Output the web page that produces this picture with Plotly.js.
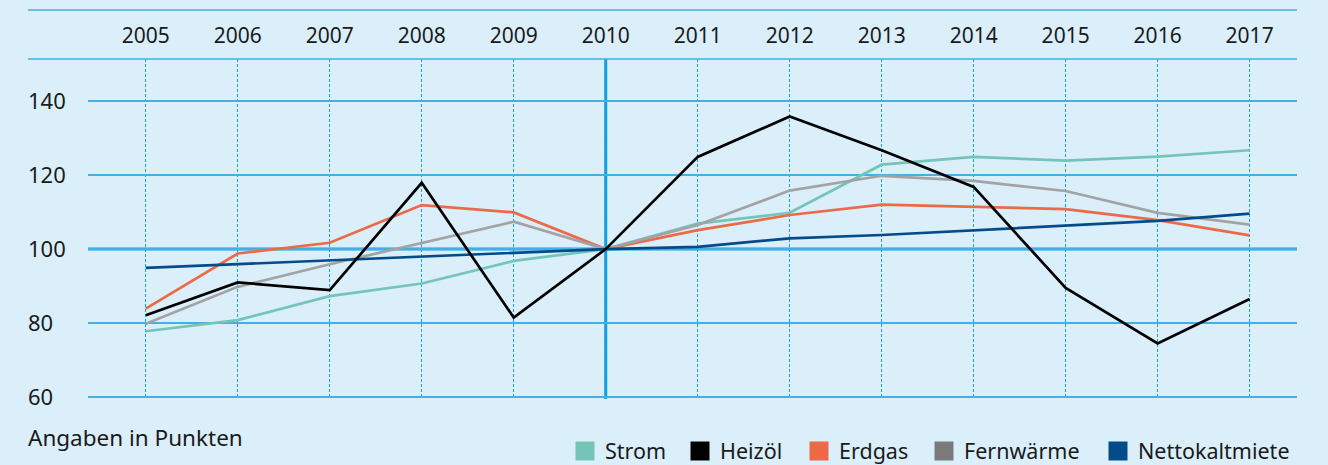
<!DOCTYPE html>
<html>
<head>
<meta charset="utf-8">
<script src="https://cdn.plot.ly/plotly-3.0.1.min.js"></script>
<style>
  html, body { margin: 0; padding: 0; background: #dbeffb; }
  #chart { width: 1328px; height: 465px; }
</style>
</head>
<body>
<div id="chart"></div>
<script>
// ---- data ----
const years = [2005, 2006, 2007, 2008, 2009, 2010, 2011, 2012, 2013, 2014, 2015, 2016, 2017];
const strom = [77.8, 80.8, 87.3, 90.7, 96.8, 100, 106.9, 109.8, 122.8, 124.9, 123.9, 125.0, 126.7];
const heizoel = [82.1, 91.0, 88.9, 117.9, 81.5, 100, 124.9, 135.8, 126.7, 116.8, 89.5, 74.5, 86.5];
const erdgas = [83.9, 98.8, 101.7, 111.9, 109.9, 100, 105.1, 109.2, 112.0, 111.4, 110.8, 107.8, 103.7];
const fernwaerme = [79.8, 89.8, 95.9, 101.7, 107.4, 100, 106.5, 115.8, 119.8, 118.4, 115.7, 109.8, 106.6];
const nettokaltmiete = [94.9, 95.9, 97.0, 98.1, 99.1, 100, 100.6, 102.9, 103.8, 105.1, 106.5, 107.6, 109.6];
const seriesNames = ["Strom", "Heizöl", "Erdgas", "Fernwärme", "Nettokaltmiete"];
const yTicks = [60, 80, 100, 120, 140];
const baseYear = 2010;
const baseValue = 100;
const noteText = "Angaben in Punkten";

// ---- styles ----
const lineColors = ["#74c5b8", "#000000", "#ec6a48", "#a3a3a3", "#044c89"];
const legendColors = ["#74c5b8", "#000000", "#ec6a48", "#7a7a7a", "#044c89"];
const legendLeftPx = [577, 692, 811, 936, 1110];  // left edge of each legend swatch (layout)
const seriesData = [strom, heizoel, erdgas, fernwaerme, nettokaltmiete];
const drawOrder = [0, 2, 3, 4, 1];

const FONT = "Noto Sans, Open Sans, sans-serif";
const gridBlue = "#45afe5";
const strongBlue = "#0a9fe2";
const PLOT_L = 88, PLOT_W = 1328 - 88 - 31;
const plotH = 465 - 59 - 66;

const legendIds = seriesNames.map((n, i) => i === 0 ? "legend" : "legend" + (i + 1));

const traces = [];
drawOrder.forEach(i => {
  traces.push({
    x: years, y: seriesData[i], type: "scatter", mode: "lines",
    name: seriesNames[i], showlegend: false,
    line: { color: lineColors[i], width: 2.7 }, hoverinfo: "x+y+name"
  });
});
seriesNames.forEach((n, i) => {
  traces.push({
    x: [null], y: [null], type: "scatter", mode: "markers",
    name: n, showlegend: true, legend: legendIds[i],
    marker: { symbol: "square", size: 16, color: legendColors[i],
              line: { color: legendColors[i], width: 3 } }
  });
});

const leftLineX = (28 - PLOT_L) / PLOT_W;

const layout = {
  width: 1328, height: 465,
  margin: { l: PLOT_L, r: 31, t: 59, b: 66, pad: 0, autoexpand: false },
  paper_bgcolor: "#dbeffb",
  plot_bgcolor: "#dbeffb",
  font: { family: FONT, color: "#1a1a1a", size: 21 },
  showlegend: true,
  xaxis: {
    side: "top",
    range: [2004.372, 2017.515],
    tickmode: "array", tickvals: years, ticktext: years.map(String),
    ticks: "", showline: false, zeroline: false,
    showgrid: true, gridcolor: "#1a9fe2", gridwidth: 1, griddash: "3px,2px",
    tickfont: { family: FONT, size: 21, color: "#1a1a1a" },
    ticklabelstandoff: 11,
    fixedrange: true
  },
  yaxis: {
    range: [59.5, 151.35],
    tickmode: "array", tickvals: yTicks, ticktext: yTicks.map(String),
    ticks: "", showline: false, zeroline: false,
    showgrid: true, gridcolor: gridBlue, gridwidth: 1.5,
    ticklabelposition: "inside",
    ticklabeloverflow: "allow",
    ticklabelstandoff: -63,
    tickfont: { family: FONT, size: 22, color: "#1a1a1a" },
    fixedrange: true
  },
  shapes: [
    { type: "line", xref: "paper", yref: "paper", x0: leftLineX, x1: 1, y0: 1 + 49 / plotH, y1: 1 + 49 / plotH,
      line: { color: gridBlue, width: 1.5 } },
    { type: "line", xref: "paper", yref: "paper", x0: leftLineX, x1: 1, y0: 1, y1: 1,
      line: { color: gridBlue, width: 1.5 } },
    { type: "line", xref: "paper", yref: "y", x0: 0, x1: 1, y0: baseValue, y1: baseValue,
      line: { color: strongBlue, width: 3 }, layer: "below" },
    { type: "line", xref: "x", yref: "paper", x0: baseYear, x1: baseYear, y0: 0, y1: 1,
      line: { color: strongBlue, width: 3 }, layer: "below" }
  ],
  annotations: [
    { text: noteText, xref: "paper", yref: "paper", x: leftLineX - 0.002, y: (399 - 437) / plotH,
      xanchor: "left", yanchor: "middle", showarrow: false,
      font: { family: FONT, size: 22.5, color: "#1a1a1a" } }
  ]
};

legendIds.forEach((id, i) => {
  layout[id] = {
    orientation: "h", x: (legendLeftPx[i] - 12 - PLOT_L) / PLOT_W, xanchor: "left",
    y: (399 - 451) / plotH, yanchor: "middle",
    bgcolor: "rgba(0,0,0,0)", borderwidth: 0,
    font: { family: FONT, size: 21.5, color: "#1a1a1a" },
    itemwidth: 30
  };
});

Plotly.newPlot("chart", traces, layout, { displayModeBar: false, staticPlot: true });
</script>
</body>
</html>
